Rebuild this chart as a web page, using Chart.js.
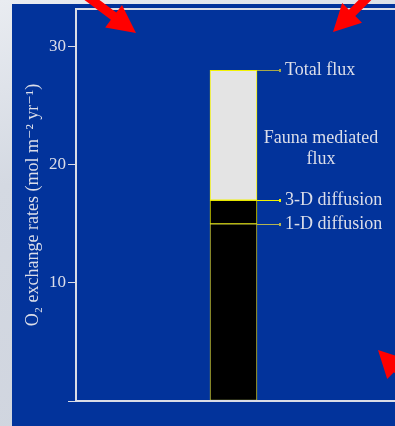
<!DOCTYPE html>
<html>
<head>
<meta charset="utf-8">
<title>O2 exchange rates</title>
<script src="https://cdn.jsdelivr.net/npm/chart.js@4"></script>
<style>
  html, body { margin: 0; padding: 0; }
  body {
    width: 395px; height: 426px; overflow: hidden; position: relative;
    background: linear-gradient(165deg, #e9ecf1 0%, #d4d9e2 35%, #cfd4de 100%);
  }
  #panel { position: absolute; left: 12px; top: 4px; right: 0; bottom: 0; background: #02339b; }
  #wrap { position: absolute; left: 0; top: 0; width: 395px; height: 426px; }
</style>
</head>
<body>
<div id="panel"></div>
<div id="wrap"><canvas id="flux-chart" width="395" height="426"></canvas></div>
<script>
// 数据
const categories = ['Flux'];
const oneDDiffusion = [15];
const threeDDiffusion = [17];
const totalFlux = [28];
const yTicks = [0, 10, 20, 30];
const yMax = 33.2;

const textColor = '#dcdee9';
const serif = '"Liberation Serif", "DejaVu Serif", serif';

// 各段高度
const diff3DPart = threeDDiffusion.map((v, i) => v - oneDDiffusion[i]);
const faunaPart = totalFlux.map((v, i) => v - threeDDiffusion[i]);

// 标注
const callouts = [
  { label: 'Total flux', values: totalFlux, color: '#a8a848' },
  { label: '3-D diffusion', values: threeDDiffusion, color: '#f2f200' },
  { label: '1-D diffusion', values: oneDDiffusion, color: '#b4b452' }
];

// 画框（右边在图外）
const framePlugin = {
  id: 'frame',
  afterDraw(chart) {
    const { ctx, chartArea: a } = chart;
    ctx.save();
    ctx.strokeStyle = '#dadde6';
    ctx.lineWidth = 2;
    ctx.beginPath();
    ctx.moveTo(chart.width + 5, a.top);
    ctx.lineTo(a.left, a.top);
    ctx.lineTo(a.left, a.bottom);
    ctx.lineTo(chart.width + 5, a.bottom);
    ctx.stroke();
    ctx.restore();
  }
};

// 右侧标注线和文字
const calloutPlugin = {
  id: 'callouts',
  afterDatasetsDraw(chart) {
    const { ctx } = chart;
    const y = chart.scales.y;
    const bar = chart.getDatasetMeta(0).data[0];
    const x0 = bar.x + bar.width / 2;
    ctx.save();
    ctx.font = '18px ' + serif;
    ctx.textBaseline = 'middle';
    callouts.forEach(c => {
      const py = Math.round(y.getPixelForValue(c.values[0])) + 0.5;
      ctx.strokeStyle = c.color;
      ctx.lineWidth = 1;
      ctx.beginPath();
      ctx.moveTo(x0, py);
      ctx.lineTo(x0 + 24, py);
      ctx.stroke();
      ctx.fillStyle = c.color;
      ctx.fillRect(x0 + 22, py - 1.5, 2, 3);
      ctx.fillStyle = textColor;
      ctx.textAlign = 'left';
      ctx.fillText(c.label, x0 + 28, py);
    });
    // 中间那段的说明
    const mid = y.getPixelForValue((threeDDiffusion[0] + totalFlux[0]) / 2);
    ctx.textAlign = 'center';
    ctx.fillText('Fauna mediated', x0 + 64, mid + 3);
    ctx.fillText('flux', x0 + 64, mid + 24);
    ctx.restore();
  }
};

// 红色箭头（幻灯片装饰）
function drawArrow(ctx, tipX, tipY, dx, dy, len, headLen, headW, shaftW) {
  const px = -dy, py = dx;
  const bx = tipX + dx * headLen, by = tipY + dy * headLen;
  const tx = tipX + dx * len, ty = tipY + dy * len;
  ctx.beginPath();
  ctx.moveTo(tipX, tipY);
  ctx.lineTo(bx + px * headW / 2, by + py * headW / 2);
  ctx.lineTo(bx + px * shaftW / 2, by + py * shaftW / 2);
  ctx.lineTo(tx + px * shaftW / 2, ty + py * shaftW / 2);
  ctx.lineTo(tx - px * shaftW / 2, ty - py * shaftW / 2);
  ctx.lineTo(bx - px * shaftW / 2, by - py * shaftW / 2);
  ctx.lineTo(bx - px * headW / 2, by - py * headW / 2);
  ctx.closePath();
  ctx.fill();
}

const arrowPlugin = {
  id: 'arrows',
  afterDraw(chart) {
    const ctx = chart.ctx;
    ctx.save();
    ctx.fillStyle = '#ff0000';
    drawArrow(ctx, 136, 33, -0.8, -0.6, 90, 28, 28, 9);
    drawArrow(ctx, 333, 32, 0.707, -0.707, 90, 27, 28, 9);
    drawArrow(ctx, 378, 350, 0.707, 0.707, 90, 27, 28, 9);
    ctx.restore();
  }
};

const ctx = document.getElementById('flux-chart');
new Chart(ctx, {
  type: 'bar',
  data: {
    labels: categories,
    datasets: [
      {
        label: '1-D diffusion',
        data: oneDDiffusion,
        backgroundColor: '#000000',
        borderColor: '#c8c83c',
        borderWidth: 1,
        borderSkipped: false
      },
      {
        label: '3-D diffusion',
        data: diff3DPart,
        backgroundColor: '#000000',
        borderColor: '#e6e600',
        borderWidth: 1,
        borderSkipped: false
      },
      {
        label: 'Fauna mediated flux',
        data: faunaPart,
        backgroundColor: '#e4e4e4',
        borderColor: '#f2f200',
        borderWidth: 1,
        borderSkipped: false
      }
    ]
  },
  options: {
    responsive: false,
    animation: false,
    devicePixelRatio: 1,
    layout: { padding: { left: 0, top: 9, right: 4, bottom: 25 } },
    datasets: { bar: { barThickness: 47 } },
    plugins: {
      legend: { display: false },
      tooltip: { enabled: false }
    },
    scales: {
      x: { stacked: true, display: false },
      y: {
        stacked: true,
        min: 0,
        max: yMax,
        afterBuildTicks: axis => { axis.ticks = yTicks.map(v => ({ value: v })); },
        afterFit: axis => {
          axis.width = 76;
          axis.paddingTop = 0;
          axis.paddingBottom = 0;
        },
        border: { display: false },
        grid: {
          drawOnChartArea: false,
          drawTicks: true,
          tickLength: 8,
          color: '#dadde6',
          lineWidth: 1
        },
        ticks: {
          color: textColor,
          font: { family: serif, size: 17 },
          padding: 2,
          callback: v => (v === 0 ? '' : v)
        },
        title: {
          display: true,
          text: 'O₂ exchange rates (mol m⁻² yr⁻¹)',
          color: textColor,
          font: { family: serif, size: 18 },
          padding: { top: 22, bottom: 0 }
        }
      }
    }
  },
  plugins: [framePlugin, calloutPlugin, arrowPlugin]
});
</script>
</body>
</html>
